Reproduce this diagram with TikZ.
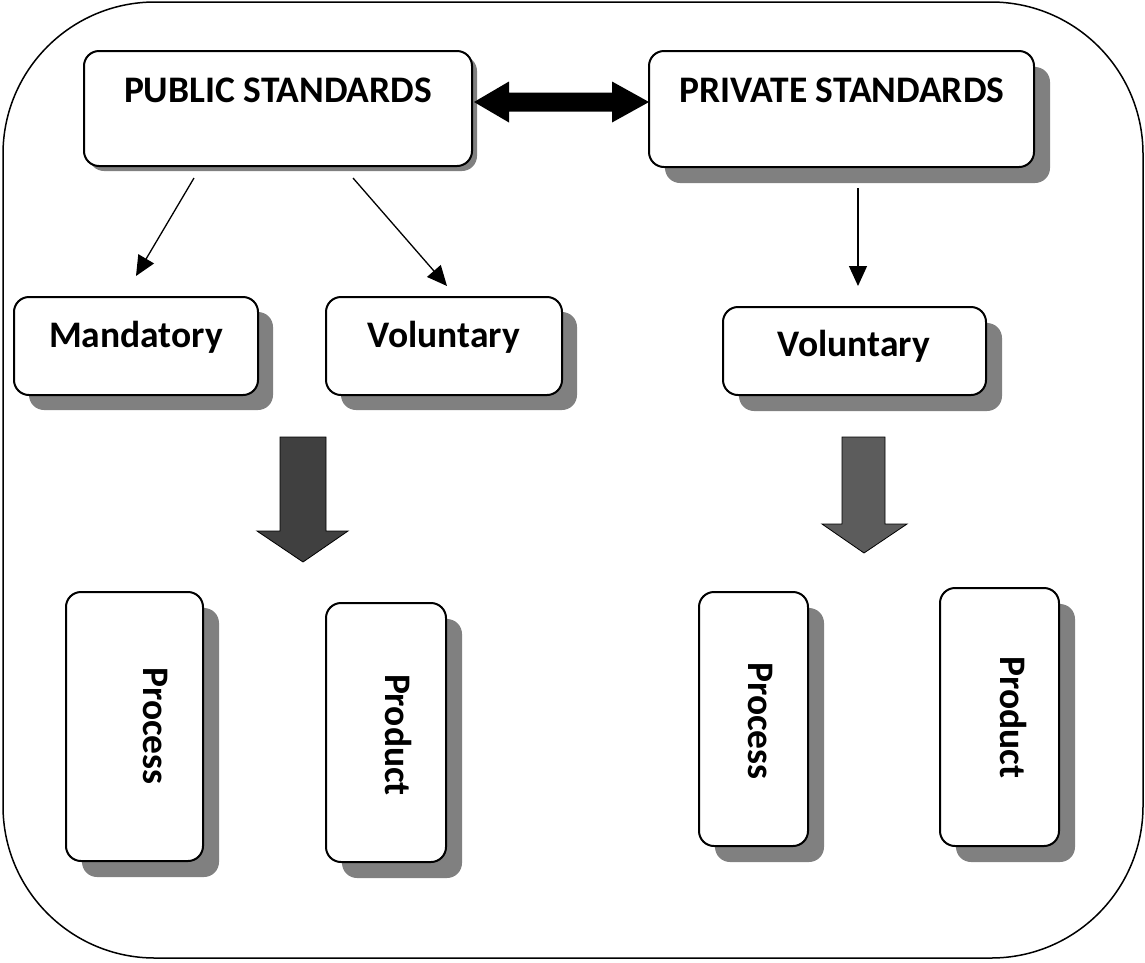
\documentclass[tikz,border=0pt]{standalone}
\usepackage{fontspec}
\setmainfont{Carlito}
\usetikzlibrary{arrows.meta,shadows,calc}
\definecolor{shadowgray}{HTML}{808080}
\definecolor{blockA}{HTML}{404040}
\definecolor{blockB}{HTML}{5C5C5C}
\begin{document}
\begin{tikzpicture}[x=1pt,y=-1pt,
  box/.style={draw=black, line width=2pt, fill=white, rounded corners=15pt, inner sep=0pt},
  shad/.style={drop shadow={shadow xshift=#1pt, shadow yshift=-#1pt, fill=shadowgray, opacity=1}},
  lbl/.style={font=\fontsize{37.5}{42}\selectfont\bfseries, inner sep=0pt},
  thin arrow/.style={line width=1.3pt, -{Triangle[length=20pt,width=18pt]}},
  blockarrow/.style={draw=black, line width=0.8pt}
]
\useasboundingbox (0,0) rectangle (1145,962);
% outer frame
\draw[line width=1.5pt, rounded corners=152pt] (3,2) rectangle (1143,958);

% boxes
\node[box, shad=5, minimum width=388pt, minimum height=115pt] (pub) at (278,108.5) {};
\node[box, shad=16, minimum width=385pt, minimum height=116pt] (priv) at (841.5,109) {};
\node[box, shad=15, minimum width=244pt, minimum height=98pt] (mand) at (136,346) {};
\node[box, shad=15, minimum width=236pt, minimum height=98pt] (volL) at (444,346) {};
\node[box, shad=16, minimum width=263pt, minimum height=88pt] (volR) at (854.5,351) {};
\node[box, shad=16, minimum width=137pt, minimum height=269pt] (procL) at (134.5,726.5) {};
\node[box, shad=16, minimum width=120pt, minimum height=259pt] (prodL) at (386,732.5) {};
\node[box, shad=16, minimum width=109pt, minimum height=254pt] (procR) at (753.5,719) {};
\node[box, shad=16, minimum width=119pt, minimum height=258pt] (prodR) at (999.5,717) {};

% labels
\node[lbl, anchor=base] (tpub) at (278,102) {PUBLIC STANDARDS};
\node[lbl, anchor=base] (tpriv) at (842,102) {PRIVATE STANDARDS};
\node[lbl, anchor=base] (tmand) at (136,347.5) {Mandatory};
\node[lbl, anchor=base] (tvolL) at (444,347) {Voluntary};
\node[lbl, anchor=base] (tvolR) at (854,356) {Voluntary};
\node[lbl, anchor=base, rotate=-90] (tprocL) at (143,726) {Process};
\node[lbl, anchor=base, rotate=-90] (tprodL) at (385,735) {Product};
\node[lbl, anchor=base, rotate=-90] (tprocR) at (748,721) {Process};
\node[lbl, anchor=base, rotate=-90] (tprodR) at (1000,717.5) {Product};

% thin arrows
\draw[thin arrow] ([shift={(-84,11)}]pub.south) -- ([shift={(0,-20)}]mand.north);
\draw[thin arrow] ([shift={(75,11)}]pub.south) -- ([shift={(3,-10)}]volL.north);
\draw[thin arrow] ([shift={(16.5,20)}]priv.south) -- ([shift={(3.5,-20)}]volR.north);

% double arrow between public and private
\coordinate (dl) at ([shift={(1,-6.5)}]pub.east);
\coordinate (dr) at ([shift={(1,-7)}]priv.west);
\fill[black] (dl) -- ($(dl)+(35,-20.5)$) -- ($(dl)+(35,-9.5)$) -- ($(dr)+(-37,-9.5)$) -- ($(dr)+(-37,-20.5)$)
  -- (dr) -- ($(dr)+(-37,20.5)$) -- ($(dr)+(-37,9.5)$) -- ($(dl)+(35,9.5)$) -- ($(dl)+(35,20.5)$) -- cycle;

% block arrows
\coordinate (baL) at (303,437);
\filldraw[blockarrow, fill=blockA] ($(baL)+(-23,0)$) -- ($(baL)+(23,0)$) -- ($(baL)+(23,94)$) -- ($(baL)+(45,94)$)
  -- ($(baL)+(0,125)$) -- ($(baL)+(-46,94)$) -- ($(baL)+(-23,94)$) -- cycle;
\coordinate (baR) at (864,437);
\filldraw[blockarrow, fill=blockB] ($(baR)+(-22,0)$) -- ($(baR)+(21,0)$) -- ($(baR)+(21,87)$) -- ($(baR)+(43,87)$)
  -- ($(baR)+(0,116)$) -- ($(baR)+(-42,87)$) -- ($(baR)+(-22,87)$) -- cycle;
\end{tikzpicture}
\end{document}
